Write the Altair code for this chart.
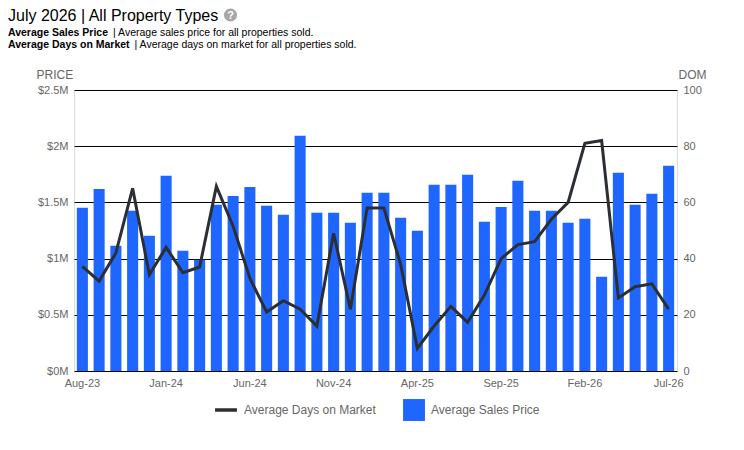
import altair as alt
import pandas as pd

months = ["Aug-23","Sep-23","Oct-23","Nov-23","Dec-23","Jan-24","Feb-24","Mar-24","Apr-24","May-24","Jun-24","Jul-24",
          "Aug-24","Sep-24","Oct-24","Nov-24","Dec-24","Jan-25","Feb-25","Mar-25","Apr-25","May-25","Jun-25","Jul-25",
          "Aug-25","Sep-25","Oct-25","Nov-25","Dec-25","Jan-26","Feb-26","Mar-26","Apr-26","May-26","Jun-26","Jul-26"]
price = [1452000,1620000,1114000,1425000,1203000,1736000,1070000,990000,1478000,1558000,1638000,1470000,
         1390000,2092000,1407000,1407000,1318000,1585000,1585000,1363000,1247000,1656000,1656000,1745000,
         1327000,1460000,1692000,1425000,1425000,1318000,1354000,838000,1763000,1478000,1576000,1825000]
dom = [37.2,32,42,65,34.3,44,35,37,65.7,51.5,33,21,25,22,16,49,22,58,58,38,8,16,23,17.3,27,40,45,46,54,60,81,82,26,30,31,22]
tick_labels = ["Aug-23","Jan-24","Jun-24","Nov-24","Apr-25","Sep-25","Feb-26","Jul-26"]
price_ticks = [0,500000,1000000,1500000,2000000,2500000]
dom_ticks = [0,20,40,60,80,100]

TXT = "#666666"
FONT = "Liberation Sans"
df = pd.DataFrame({"month": months, "price": price, "dom": dom,
                   "s1": "Average Sales Price", "s2": "Average Days on Market"})

xenc = alt.X("month:N", sort=months, title=None,
             scale=alt.Scale(paddingInner=0.34, paddingOuter=0.17),
             axis=alt.Axis(values=tick_labels, labelAngle=0, ticks=False, domain=False,
                           labelColor=TXT, labelFontSize=11, labelFont=FONT, labelPadding=6, grid=False))

bars = alt.Chart(df).mark_bar().encode(
    x=xenc,
    y=alt.Y("price:Q", scale=alt.Scale(domain=[0,2500000]),
            axis=alt.Axis(values=price_ticks, orient="left", labelExpr="'$' + datum.value/1000000 + 'M'",
                          title="PRICE", titleAngle=0, titleX=-38, titleY=-9, titleAlign="left",
                          titleFontWeight="normal", titleColor=TXT, titleFontSize=12, titleFont=FONT,
                          ticks=False, domain=False, grid=True, gridColor="#000000", gridWidth=1.2,
                          labelColor=TXT, labelFontSize=11, labelFont=FONT, labelPadding=6)),
    fill=alt.Fill("s1:N", scale=alt.Scale(range=["#1F66FF"]),
                  legend=alt.Legend(title=None, orient="none", legendX=329, legendY=309,
                                    symbolType="square", symbolSize=480, symbolStrokeWidth=0,
                                    labelColor=TXT, labelFontSize=12, labelFont=FONT, labelOffset=6)),
)

line = alt.Chart(df).mark_line(strokeWidth=3, strokeJoin="miter").encode(
    x=xenc,
    y=alt.Y("dom:Q", scale=alt.Scale(domain=[0,100]),
            axis=alt.Axis(values=dom_ticks, orient="right", title="DOM", titleAngle=0, titleX=1, titleY=-9,
                          titleAlign="left", titleFontWeight="normal", titleColor=TXT, titleFontSize=12,
                          titleFont=FONT, ticks=False, domain=False, grid=False,
                          labelColor=TXT, labelFontSize=11, labelFont=FONT, labelPadding=6)),
    stroke=alt.Stroke("s2:N", scale=alt.Scale(range=["#2B2F33"]),
                      legend=alt.Legend(title=None, orient="none", legendX=139, legendY=307,
                                        symbolType="stroke", symbolSize=480, symbolStrokeWidth=3.5,
                                        labelColor=TXT, labelFontSize=12, labelFont=FONT, labelOffset=5)),
)

def note(text, x, y, size, weight="normal", color="#000000", align="left"):
    return alt.Chart(pd.DataFrame({"t": [text]})).mark_text(
        align=align, baseline="middle", fontSize=size, fontWeight=weight, color=color, font=FONT
    ).encode(x=alt.value(x), y=alt.value(y), text="t:N")

L = -66
notes = [
    note("July 2026 | All Property Types", L, -74.5, 16),
    note("Average Sales Price", L, -57.5, 10.5, "bold"),
    note("| Average sales price for all properties sold.", L + 105, -57.5, 10.5),
    note("Average Days on Market", L, -45.5, 10.5, "bold"),
    note("| Average days on market for all properties sold.", L + 126.5, -45.5, 10.5),
    note("?", 156.5, -74.5, 11, "bold", "#ffffff", "center"),
]
icon = alt.Chart(pd.DataFrame({"a": [1]})).mark_circle(size=170, color="#a6a6a6", opacity=1).encode(
    x=alt.value(156.5), y=alt.value(-75))

chart = alt.layer(bars, line, icon, *notes).resolve_scale(y="independent").properties(
    width=603, height=281,
    autosize=alt.AutoSizeParams(type="none"),
    padding={"left": 66, "top": 82, "right": 59, "bottom": 65},
).configure_view(stroke=None).configure(background="#ffffff")

chart.save("out.html", embed_options={"renderer": "svg", "actions": False})
